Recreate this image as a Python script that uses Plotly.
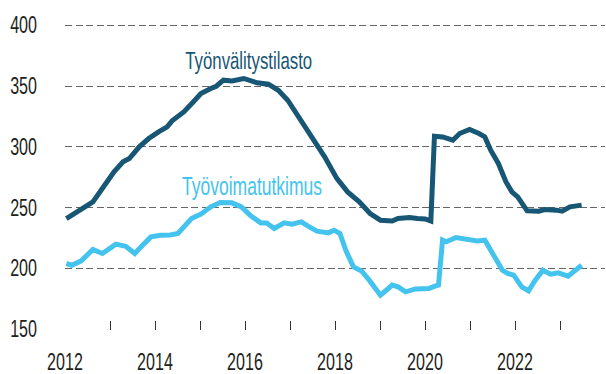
import plotly.graph_objects as go

# Työnvälitystilasto (employment service statistics), thousands
tyonvalitys_x = [2012.03, 2012.32, 2012.62, 2012.88, 2013.09, 2013.29, 2013.43, 2013.65, 2013.86,
                 2014.08, 2014.27, 2014.38, 2014.64, 2014.85, 2015.02, 2015.24, 2015.36, 2015.52,
                 2015.71, 2015.97, 2016.27, 2016.52, 2016.74, 2016.95, 2017.21, 2017.51, 2017.77,
                 2018.04, 2018.28, 2018.54, 2018.78, 2019.01, 2019.27, 2019.40, 2019.66, 2019.83,
                 2020.00, 2020.13, 2020.21, 2020.39, 2020.62, 2020.77, 2020.99, 2021.20, 2021.33,
                 2021.46, 2021.63, 2021.80, 2021.93, 2022.06, 2022.27, 2022.53, 2022.66, 2022.92,
                 2023.05, 2023.22, 2023.48]
tyonvalitys_y = [241, 247.3, 254.7, 268.4, 279.4, 287.6, 290.3, 300, 306.8,
                 312.3, 316.4, 321.3, 328.7, 336.9, 343.8, 348, 349.8, 354.8,
                 354.2, 356.2, 352.6, 351.5, 346.5, 338.3, 323.3, 306.8, 291.7,
                 274, 262.9, 254.7, 245.1, 239.6, 239, 241, 241.8, 241,
                 240.7, 239, 308.7, 308.1, 305.4, 310.9, 314.2, 310.9, 308.1,
                 297.2, 286.3, 271.1, 262.9, 258.8, 247.3, 247, 248.4, 247.9,
                 247, 250.6, 252]

# Työvoimatutkimus (labour force survey), thousands
tyovoima_x = [2012.03, 2012.15, 2012.36, 2012.62, 2012.83, 2013.13, 2013.35, 2013.55, 2013.69,
              2013.91, 2014.12, 2014.34, 2014.51, 2014.63, 2014.81, 2015.02, 2015.24, 2015.45,
              2015.71, 2015.92, 2016.14, 2016.35, 2016.48, 2016.65, 2016.87, 2017.04, 2017.25,
              2017.43, 2017.60, 2017.85, 2017.98, 2018.11, 2018.24, 2018.41, 2018.59, 2018.76,
              2019.01, 2019.14, 2019.27, 2019.40, 2019.57, 2019.79, 2020.09, 2020.22, 2020.30,
              2020.39, 2020.47, 2020.69, 2020.94, 2021.16, 2021.33, 2021.50, 2021.72, 2021.84,
              2021.97, 2022.15, 2022.30, 2022.45, 2022.62, 2022.79, 2022.96, 2023.18, 2023.48]
tyovoima_y = [204, 202.6, 206.2, 215.5, 212.2, 219.9, 218.2, 212.2, 217.7,
              225.9, 227.3, 227.5, 228.7, 234.1, 241, 244.6, 250.6, 254.2,
              253.9, 250.6, 242.9, 237.4, 237.4, 232.8, 237.4, 236.3, 238.2,
              234.1, 230.6, 229.2, 231.4, 228.7, 214.8, 201.2, 197.9, 190.3,
              177.9, 182, 186.2, 184.8, 180.7, 183.1, 183.5, 185.3, 186.2,
              223.2, 221.8, 225.4, 223.8, 222.6, 223.2, 212.2, 198.5, 195.8,
              194.4, 184.8, 181.5, 190.3, 198.5, 195.2, 196.3, 193.6, 202.6]

year_ticks = list(range(2012, 2025))
year_labels = [str(y) if y % 2 == 0 and y < 2024 else "" for y in year_ticks]
value_ticks = [150, 200, 250, 300, 350, 400]

DARK = "#175674"
LIGHT = "#45c3ef"
TEXT = "#231f20"
FONT = "Liberation Sans, Arial, sans-serif"
TEXT_SQUEEZE = 0.70  # horizontal condensing applied to all text

fig = go.Figure()
fig.add_trace(go.Scatter(x=tyovoima_x, y=tyovoima_y, mode="lines",
                         line=dict(color=LIGHT, width=5), name="Työvoimatutkimus"))
fig.add_trace(go.Scatter(x=tyonvalitys_x, y=tyonvalitys_y, mode="lines",
                         line=dict(color=DARK, width=5), name="Työnvälitystilasto"))

fig.add_annotation(x=2016.07, y=371, text="Työnvälitystilasto", showarrow=False,
                   font=dict(family=FONT, size=24, color=DARK))
fig.add_annotation(x=2016.16, y=268, text="Työvoimatutkimus", showarrow=False,
                   font=dict(family=FONT, size=25, color=LIGHT))

fig.update_layout(
    width=606, height=374,
    margin=dict(l=65, r=1, t=24, b=44),
    paper_bgcolor="white", plot_bgcolor="white",
    showlegend=False,
    font=dict(family=FONT, color=TEXT),
)
fig.update_xaxes(
    range=[2012, 2024], tickvals=year_ticks, ticktext=year_labels,
    ticks="inside", ticklen=9, tickwidth=1.2, tickcolor="#333",
    showgrid=False, showline=False, zeroline=False, automargin=False,
    tickfont=dict(family=FONT, size=23, color=TEXT), ticklabelstandoff=16,
)
fig.update_yaxes(
    range=[149.3, 401], tickvals=value_ticks,
    showgrid=True, gridcolor="#666", gridwidth=1.4, griddash="7px,3.5px",
    showline=False, zeroline=False, ticks="", automargin=False,
    tickfont=dict(family=FONT, size=23, color=TEXT), ticklabelstandoff=27,
)

# Condense every text element horizontally around its own anchor point
post_js = """
var gd = document.getElementById('{plot_id}');
gd.querySelectorAll('text').forEach(function(t) {
  var x = parseFloat(t.getAttribute('x')) || 0;
  var y = parseFloat(t.getAttribute('y')) || 0;
  var tr = t.getAttribute('transform') || '';
  t.setAttribute('transform', tr + ' translate(' + x + ',' + y + ') scale(SQ,1) translate(' + (-x) + ',' + (-y) + ')');
});
""".replace("SQ", str(TEXT_SQUEEZE))

fig.write_html("out.html", post_script=post_js)
